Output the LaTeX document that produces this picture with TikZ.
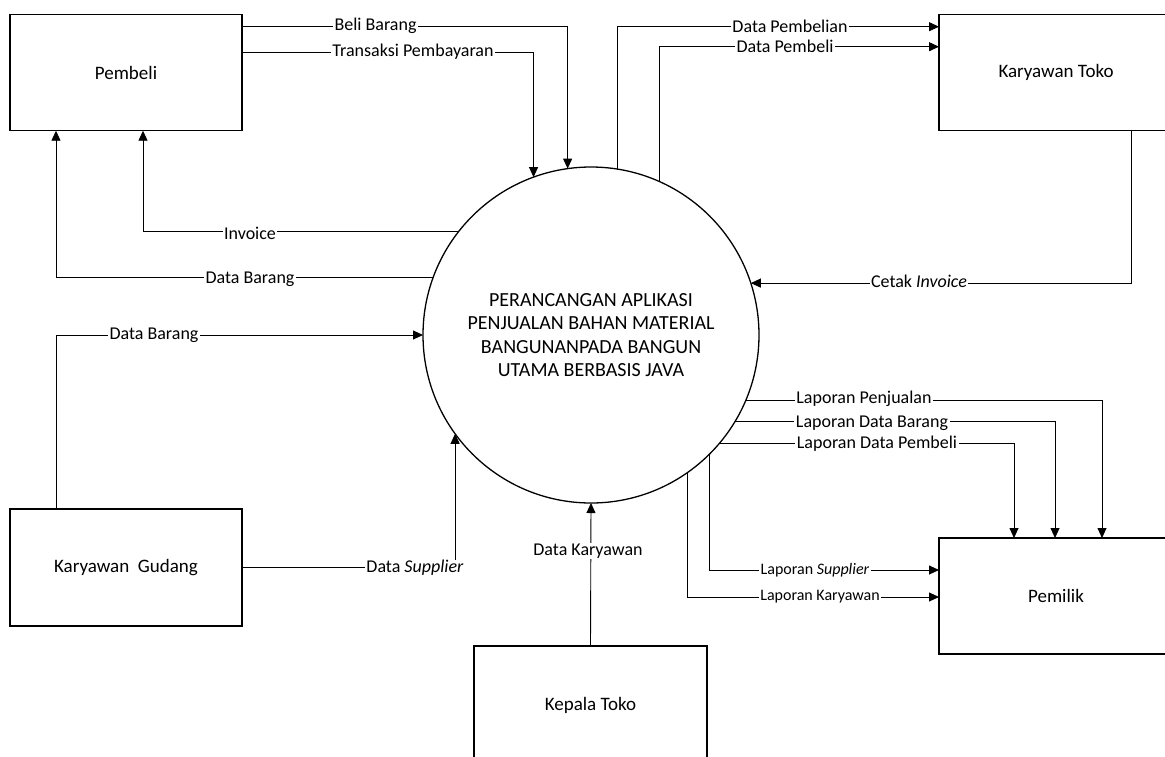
\documentclass[tikz,border=0pt]{standalone}
\usepackage{fontspec}
\setmainfont{Carlito}
\usetikzlibrary{arrows.meta}
\begin{document}
\begin{tikzpicture}[x=1pt,y=-1pt,
  box/.style={draw,line width=1.3pt,rectangle,outer sep=0pt,inner sep=0pt,
    font=\fontsize{19}{22}\selectfont},
  proc/.style={draw,line width=1.3pt,circle,outer sep=0pt,inner sep=0pt,
    minimum size=336pt,align=center,font=\fontsize{20}{23.3}\selectfont},
  flow/.style={line width=0.9pt},
  arr/.style={flow,-{Triangle[length=10pt,width=9pt]}},
  lbl/.style={fill=white,inner xsep=1.5pt,inner ysep=0.5pt,font=\fontsize{18}{21}\selectfont},
  slbl/.style={lbl,font=\fontsize{16}{19}\selectfont}]
\useasboundingbox (0,0) rectangle (1165,756);
\fill[white] (0,0) rectangle (1165,756);

% entities
\node[box,minimum width=232pt,minimum height=116pt] (pembeli) at (126,72.7) {Pembeli};
\node[box,minimum width=234pt,minimum height=116pt] (toko) at (1056,72.7) {Karyawan Toko};
\node[box,minimum width=232pt,minimum height=117pt] (gudang) at (126,567.5) {Karyawan\ \ Gudang};
\node[box,minimum width=234pt,minimum height=116pt] (pemilik) at (1056,596) {Pemilik};
\node[box,minimum width=233pt,minimum height=118pt] (kepala) at (590.5,705) {Kepala Toko};

% process
\node[proc] (proc) at (591,335) {PERANCANGAN APLIKASI\\PENJUALAN BAHAN MATERIAL\\BANGUNANPADA BANGUN\\UTAMA BERBASIS JAVA};

% flows
\draw[arr] (pembeli.east |- 0,26) -| (proc.98.6);
\draw[arr] (pembeli.east |- 0,52) -| (proc.110.6);
\draw[arr] (proc.142.6) -| (143,0 |- pembeli.south);
\draw[arr] (proc.160.5) -| (56,0 |- pembeli.south);
\draw[arr] (56,0 |- gudang.north) |- (proc.180);
\draw[arr] (gudang.east) -| (proc.216.5);
\draw[arr] (kepala.north) -- (proc.south);
\draw[arr] (proc.81.4) |- (toko.west |- 0,26.7);
\draw[arr] (proc.66.5) |- (toko.west |- 0,46.7);
\draw[arr] (1131,0 |- toko.south) |- (proc.18.9);
\draw[arr] (proc.337.6) -| (1102,0 |- pemilik.north);
\draw[arr] (proc.-31.6) -| (1055,0 |- pemilik.north);
\draw[arr] (proc.-40.4) -| (1014,0 |- pemilik.north);
\draw[arr] (proc.-45.4) |- (pemilik.west |- 0,570);
\draw[arr] (proc.-55.2) |- (pemilik.west |- 0,597);

% labels
\node[lbl] (l1) at (375.5,26) {Beli Barang};
\node[lbl] (l2) at (413,52) {Transaksi Pembayaran};
\node[lbl] (l3) at (250,233) {Invoice};
\node[lbl] (l4) at (250,279) {Data Barang};
\node[lbl] (l5) at (154,335) {Data Barang};
\node[lbl] (l6) at (415,568) {Data \textit{Supplier}};
\node[lbl] (l7) at (588,551) {Data Karyawan};
\node[lbl] (l8) at (790,26.7) {Data Pembelian};
\node[lbl] (l9) at (785,46.7) {Data Pembeli};
\node[lbl] (l10) at (919,281) {Cetak \textit{Invoice}};
\node[lbl] (l11) at (864,399) {Laporan Penjualan};
\node[lbl] (l12) at (872,423) {Laporan Data Barang};
\node[lbl] (l13) at (877,444) {Laporan Data Pembeli};
\node[slbl] (l14) at (815,570) {Laporan \textit{Supplier}};
\node[slbl] (l15) at (820,597) {Laporan Karyawan};
\end{tikzpicture}
\end{document}
